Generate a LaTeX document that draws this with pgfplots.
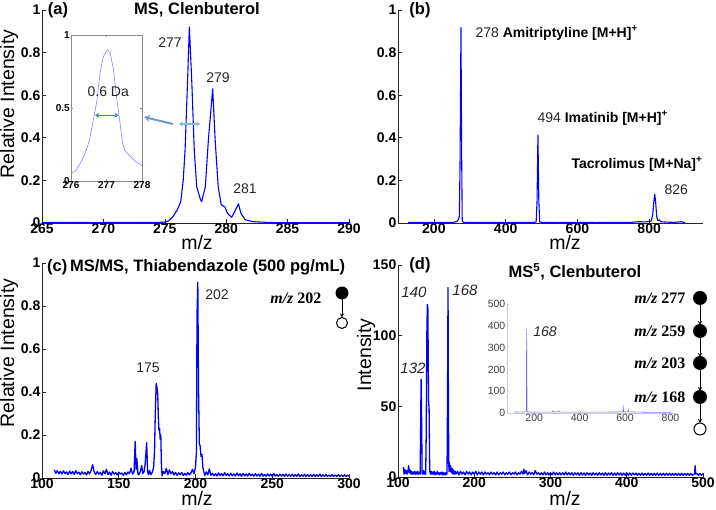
\documentclass[border=0pt]{standalone}
\usepackage{fontspec}
\setmainfont{Liberation Sans}
\newfontfamily\timesf{Liberation Serif}
\usepackage{pgfplots}
\pgfplotsset{compat=1.18}
\usetikzlibrary{arrows.meta}

\definecolor{specblue}{RGB}{0,0,255}
\definecolor{insetblue}{RGB}{115,115,245}
\definecolor{arrblue}{RGB}{70,130,190}
\definecolor{arrlight}{RGB}{130,185,225}

\pgfplotsset{
  msaxis/.style={
    scale only axis, anchor=south west,
    axis x line*=bottom, axis y line*=left,
    tick align=inside, major tick length=4pt,
    axis line style={black!85, line width=0.7pt},
    tick style={black!85, line width=0.6pt},
    tick label style={font=\bfseries\fontsize{14}{14}\selectfont},
    /pgf/number format/assume math mode=true,
    xticklabel style={inner sep=1pt},
    yticklabel style={inner sep=1.5pt},
  },
  spec/.style={specblue, line width=1.3pt, line join=round},
}
\newcommand{\mz}[1]{{\timesf\bfseries\itshape m/z\/ \upshape #1}}

\begin{document}
\begin{tikzpicture}[x=1pt,y=1pt]
\useasboundingbox (0,0) rectangle (716,510);

% ---------- (a) MS, Clenbuterol
\begin{axis}[msaxis, at={(42pt,287pt)}, width=307pt, height=213pt,
  xmin=265, xmax=290, ymin=0, ymax=1,
  xtick={265,270,275,280,285,290}, ytick={0,0.2,0.4,0.6,0.8,1}]
\addplot[spec, line width=1.1pt] coordinates {
(265,0.002) (266,0.003) (267,0.002) (268,0.003) (269,0.002) (270,0.002) (271,0.003)
(272,0.002) (273,0.003) (274,0.002) (275,0.004) (275.3,0.01) (275.6,0.025) (276,0.06)
(276.3,0.1) (276.5,0.2) (276.65,0.34) (276.85,0.66) (277,0.92) (277.2,0.66) (277.4,0.34)
(277.6,0.17) (277.9,0.11) (278,0.10) (278.3,0.17) (278.55,0.39) (278.9,0.63) (279.1,0.39)
(279.35,0.17) (279.6,0.085) (279.9,0.075) (280.1,0.045) (280.45,0.027) (280.7,0.055)
(281,0.09) (281.2,0.045) (281.55,0.015) (282.2,0.006) (283.3,0.003) (284,0.002)
(286,0.002) (288,0.002) (290,0.002)};
\end{axis}

% inset of (a)
\begin{axis}[at={(71pt,329pt)}, anchor=south west, scale only axis,
  width=71pt, height=146pt, xmin=276, xmax=278, ymin=0, ymax=1,
  xtick={276,277,278}, ytick={0,0.5,1},
  axis background/.style={fill=white},
  axis line style={black!45, line width=0.5pt},
  tick align=inside, major tick length=2pt, tick style={black!45},
  tick label style={font=\bfseries\fontsize{10}{10}\selectfont},
  /pgf/number format/assume math mode=true,
  xticklabel style={inner sep=0.5pt}, yticklabel style={inner sep=1pt},
  clip=false]
\addplot[insetblue, line width=0.5pt] coordinates {
(276,0.057) (276.12,0.064) (276.26,0.12) (276.4,0.19) (276.52,0.28) (276.63,0.42)
(276.73,0.55) (276.82,0.74) (276.91,0.85) (277.02,0.90) (277.1,0.88) (277.2,0.76)
(277.28,0.58) (277.38,0.40) (277.45,0.26) (277.52,0.21) (277.66,0.17) (277.84,0.13)
(278,0.105)};
\draw[arrblue, line width=1.3pt, {Stealth[length=4pt,width=5pt]}-{Stealth[length=4pt,width=5pt]}]
  (axis cs:276.68,0.45) -- (axis cs:277.34,0.45);
\node[font=\fontsize{14}{14}\selectfont, text=black!85] at (axis cs:277.05,0.61) {0.6 Da};
\end{axis}

% pointer from the peak to the inset
\draw[arrblue!80, line width=2pt, -{Stealth[length=6pt,width=7pt]}] (173,386) -- (144,393);
\draw[arrlight, line width=1.2pt, {Stealth[length=3.5pt,width=5pt]}-{Stealth[length=3.5pt,width=5pt]}] (179,386) -- (200,386);

\node[font=\bfseries\fontsize{16.5}{17}\selectfont] at (58,500) {(a)};
\node[font=\bfseries\fontsize{16.5}{17}\selectfont] at (197,500) {MS, Clenbuterol};
\node[font=\fontsize{14}{14}\selectfont, text=black!85] at (170,467) {277};
\node[font=\fontsize{14}{14}\selectfont, text=black!85] at (218,432) {279};
\node[font=\fontsize{14}{14}\selectfont, text=black!85] at (245,321) {281};
\node[rotate=90, font=\fontsize{19.5}{20}\selectfont] at (9,406) {Relative Intensity};
\node[font=\fontsize{19.5}{20}\selectfont] at (197,267) {m/z};

% ---------- (b) three drugs
\begin{axis}[msaxis, at={(398pt,287pt)}, width=305pt, height=213pt,
  xmin=100, xmax=950, ymin=0, ymax=1,
  xtick={200,400,600,800}, ytick={0,0.2,0.4,0.6,0.8,1}]
\addplot[spec, line width=1.1pt] coordinates {
(128,0.002) (150,0.003) (180,0.002) (200,0.003) (230,0.002) (255,0.003) (265,0.008)
(269,0.02) (271,0.03) (273,0.3) (275.5,0.917) (277.5,0.3) (279,0.01) (282,0.003)
(320,0.002) (360,0.003) (400,0.002) (440,0.003) (480,0.003) (485,0.005) (487.5,0.1)
(490,0.413) (492.5,0.1) (495,0.005) (500,0.003) (550,0.002) (600,0.003) (650,0.002)
(700,0.003) (750,0.003) (770,0.006) (790,0.005) (800,0.008) (806,0.01) (810,0.04)
(813,0.1) (815.5,0.135) (818,0.1) (821,0.03) (824,0.012) (828,0.015) (832,0.006)
(850,0.004) (870,0.003) (890,0.006) (900,0.002)};
\end{axis}
\node[anchor=west, font=\fontsize{14}{14}\selectfont] at (472,477)
  {\color{black!85}278 \bfseries\color{black}Amitriptyline [M+H]\textsuperscript{+}};
\node[anchor=west, font=\fontsize{14}{14}\selectfont] at (534,392)
  {\color{black!85}494 \bfseries\color{black}Imatinib [M+H]\textsuperscript{+}};
\node[anchor=west, font=\bfseries\fontsize{14}{14}\selectfont] at (568,346)
  {Tacrolimus [M+Na]\textsuperscript{+}};
\node[anchor=west, font=\fontsize{14}{14}\selectfont, text=black!85] at (661,320) {826};
\node[font=\bfseries\fontsize{16.5}{17}\selectfont] at (420,500) {(b)};
\node[font=\fontsize{19.5}{20}\selectfont] at (565,267) {m/z};

% ---------- (c) MS/MS Thiabendazole
\begin{axis}[msaxis, at={(42pt,32pt)}, width=307pt, height=215pt,
  xmin=100, xmax=300, ymin=0, ymax=1,
  xtick={100,150,200,250,300}, ytick={0,0.2,0.4,0.6,0.8,1}]
\addplot[spec] coordinates {
(108,0.038) (109,0.022) (110,0.034) (111,0.02) (112,0.031) (113,0.018) (114,0.033)
(115,0.02) (116,0.028) (117,0.016) (118,0.032) (119,0.019) (120,0.03) (121,0.017)
(122,0.034) (123,0.02) (124,0.027) (125,0.015) (126,0.029) (127,0.018) (128,0.026)
(129,0.014) (130,0.03) (131,0.019) (132,0.035) (133,0.062) (134,0.028) (135,0.016)
(136,0.03) (137,0.018) (138,0.026) (139,0.013) (140,0.033) (141,0.02) (142,0.04)
(143,0.016) (144,0.027) (145,0.013) (146,0.03) (147,0.018) (148,0.025) (149,0.014)
(150,0.027) (151,0.018) (152,0.023) (153,0.012) (154,0.026) (155,0.015) (156,0.028)
(157,0.02) (158,0.045) (159,0.018) (160,0.03) (160.7,0.17) (161.3,0.04) (161.8,0.09)
(162.5,0.02) (163,0.015) (164,0.03) (165,0.058) (165.6,0.02) (166.5,0.03) (167.2,0.065)
(168.2,0.165) (168.8,0.03) (169.5,0.015) (170,0.035) (171,0.015) (172,0.03) (172.7,0.05)
(173.3,0.12) (173.8,0.3) (174.4,0.44) (174.9,0.42) (175.4,0.39) (175.8,0.28) (176.2,0.22)
(176.6,0.23) (177,0.18) (177.4,0.2) (177.8,0.06) (178.2,0.01) (179,0.03) (180,0.02)
(181,0.045) (182,0.015) (183,0.038) (184,0.02) (185,0.03) (186,0.014) (187,0.026)
(188,0.012) (189,0.024) (190,0.015) (191,0.026) (192,0.012) (193,0.021) (194,0.013)
(195,0.025) (196,0.015) (197,0.022) (198,0.04) (199,0.02) (200,0.05) (200.6,0.12)
(201,0.76) (201.5,0.91) (202,0.4) (202.5,0.16) (203,0.15) (203.6,0.1) (204.2,0.11)
(204.8,0.05) (205.4,0.03) (206,0.012) (207,0.028) (208,0.015) (209,0.042) (210,0.012)
(211,0.022) (212,0.01) (213,0.02) (214,0.009) (215,0.024) (216,0.011) (217,0.021)
(218,0.01) (219,0.025) (220,0.011) (221,0.02) (222,0.009) (223,0.022) (224,0.01)
(225,0.019) (226,0.009) (227,0.023) (228,0.01) (229,0.02) (230,0.008) (231,0.021)
(232,0.01) (233,0.019) (234,0.009) (235,0.022) (236,0.01) (237,0.018) (238,0.008)
(239,0.02) (240,0.009) (241,0.018) (242,0.008) (243,0.021) (244,0.009) (245,0.017)
(246,0.008) (247,0.019) (248,0.009) (249,0.018) (250,0.008) (251,0.02) (252,0.009)
(253,0.016) (254,0.008) (255,0.018) (256,0.009) (257,0.017) (258,0.007) (259,0.019)
(260,0.008) (261,0.016) (262,0.008) (263,0.018) (264,0.007) (265,0.016) (266,0.008)
(267,0.019) (268,0.007) (269,0.015) (270,0.008) (271,0.017) (272,0.007) (273,0.016)
(274,0.008) (275,0.015) (276,0.007) (277,0.017) (278,0.007) (279,0.015) (280,0.008)
(281,0.018) (282,0.007) (283,0.015) (284,0.007) (285,0.016) (286,0.007) (287,0.014)
(288,0.007) (289,0.016) (290,0.007) (291,0.014) (292,0.007) (293,0.015) (294,0.007)
(295,0.014) (296,0.006) (297,0.015) (298,0.007) (299,0.014) (300,0.007)};
\end{axis}
\node[anchor=west, inner sep=0pt, font=\bfseries\fontsize{16.5}{17}\selectfont] at (47,243)
  {(c)\,MS/MS, Thiabendazole (500 pg/mL)};
\node[font=\fontsize{14}{14}\selectfont, text=black!85] at (217,215) {202};
\node[font=\fontsize{14}{14}\selectfont, text=black!85] at (148,142) {175};
\node[anchor=east, font=\fontsize{16}{16}\selectfont] at (325,212) {\mz{202}};
\fill (342,217) circle (6.5);
\draw[line width=1pt] (342,187) circle (5.5);
\draw[line width=1pt, -{Stealth[length=4pt,width=4pt]}] (342,210.5) -- (342,192.5);
\node[rotate=90, font=\fontsize{19.5}{20}\selectfont] at (9,157) {Relative Intensity};
\node[font=\fontsize{19.5}{20}\selectfont] at (197,11) {m/z};

% ---------- (d) MS^5 Clenbuterol
\begin{axis}[msaxis, at={(398pt,33pt)}, width=305pt, height=212pt,
  xmin=100, xmax=500, ymin=0, ymax=150,
  xtick={100,200,300,400,500}, ytick={0,50,100,150}]
\addplot[spec] coordinates {
(107,7) (108,2) (109,5.5) (110,2.5) (111,4.5) (112,2) (113,4) (114,8) (115,3) (116,5)
(117,2) (118,4) (119,2) (120,3.5) (121,2) (122,4) (123,2) (124,3.5) (125,2) (126,4)
(127,2) (128,3) (129,2) (129.6,30) (130.3,69) (131,40) (131.6,3) (132.5,2) (133.5,4.5)
(134.5,2) (135.5,4) (136.3,2) (137,30) (137.8,100) (138.5,122) (139.2,119) (140,55)
(140.8,48) (141.6,4) (142.5,2) (143.5,4) (144.5,2) (145.5,3.5) (146.5,2) (147.5,4)
(148.5,1.5) (149.5,3) (150.5,2) (151.5,4) (152.5,2) (153.5,3) (154.5,1.5) (155.5,3)
(156.5,2) (157.5,3.5) (158.5,1.5) (159.5,3) (160.5,1.5) (161.5,3) (162.5,1.5) (163.5,3)
(164.3,2) (165,60) (165.6,134) (166.2,40) (166.8,4) (167.5,10) (168.3,4) (169,8) (170,3)
(171,6) (172,2) (173,5) (174,2) (175,4) (176,2) (178,4) (180,1.5) (182,4) (184,2)
(186,3.5) (188,1.5) (190,4) (192,2) (194,3.5) (196,1.5) (198,3.5) (200,2) (202,4)
(204,1.5) (206,3.5) (208,2) (210,3.5) (212,1.5) (214,3.5) (216,2) (218,3) (220,1.5)
(222,3.5) (224,2) (226,3) (228,1.5) (230,3.5) (232,1.5) (234,3) (236,2) (238,3.5)
(240,1.5) (242,3) (244,2) (246,3.5) (248,1.5) (250,3) (252,2) (254,3.5) (256,1.5)
(258,3) (260,2) (262,4) (264,2) (265,5.5) (266,2.5) (268,4.5) (270,1.5) (272,3.5)
(274,2) (276,3) (278,1.5) (280,4.5) (282,2) (284,3) (286,1.5) (288,3) (290,1.5)
(292,3.5) (294,1.5) (296,3) (298,1.5) (300,3) (302,1.5) (304,3.5) (306,1.5) (308,3)
(310,1.5) (312,3) (314,1.5) (316,3) (318,1.5) (320,3.5) (322,1.5) (324,3) (326,1.5)
(328,3) (330,1.2) (332,3) (334,1.5) (336,3) (338,1.2) (340,3) (342,1.5) (344,2.8)
(346,1.2) (348,3) (350,1.5) (352,2.8) (354,1.2) (356,3) (358,1.5) (360,2.8) (362,1.2)
(364,3) (366,1.5) (368,2.8) (370,1.2) (372,3) (374,1.2) (376,2.8) (378,1.5) (380,3)
(382,1.2) (384,2.8) (386,1.2) (388,3) (390,1.5) (392,2.8) (394,1.2) (396,2.8) (398,1.2)
(400,3) (402,1.2) (404,2.8) (406,1.2) (408,2.8) (410,1.5) (412,2.8) (414,1.2) (416,2.6)
(418,1.2) (420,2.8) (422,1.2) (424,2.6) (426,1.2) (428,2.8) (430,1.2) (432,2.6)
(434,1.2) (436,2.6) (438,1.2) (440,2.8) (442,1.2) (444,2.6) (446,1.2) (448,2.6)
(450,1.2) (452,2.6) (454,1.2) (456,2.6) (458,1.2) (460,2.5) (462,1.2) (464,2.6)
(466,1.2) (468,2.5) (470,1.2) (472,2.6) (474,1.2) (476,2.5) (478,1.2) (480,2.5)
(482,1.2) (484,2.5) (486,1.2) (488,2) (489,2) (489.6,8) (490.3,2) (492,2.5) (494,1.2)
(496,2.4) (498,1.2) (500,2.3)};
\end{axis}

% inset of (d): full MS^5 range
\begin{axis}[at={(507pt,97pt)}, anchor=south west, scale only axis,
  width=168pt, height=109pt, xmin=80, xmax=820, ymin=0, ymax=500,
  xtick={200,400,600,800}, ytick={0,100,200,300,400,500},
  axis x line*=bottom, axis y line*=left,
  axis line style={black!20, line width=0.4pt},
  tick align=inside, major tick length=2pt, tick style={black!20},
  tick label style={font=\fontsize{10.5}{11}\selectfont, text=black!75},
  /pgf/number format/assume math mode=true,
  xticklabel style={inner sep=1pt}, yticklabel style={inner sep=1.5pt}]
\addplot[insetblue, line width=0.6pt] coordinates {
(110,5) (140,4) (160,5) (165,5) (166.5,385) (167.5,190) (168.5,5) (200,4) (250,4)
(280,4) (282,10) (284,4) (300,5) (310,8) (312,4) (400,4) (500,4) (590,5) (592,25)
(594,5) (612,5) (614,15) (616,5) (700,3) (800,3)};
\end{axis}

\node[font=\bfseries\fontsize{16.5}{17}\selectfont] at (420,245) {(d)};
\node[font=\bfseries\fontsize{16.5}{17}\selectfont] at (575,238) {MS\textsuperscript{5}, Clenbuterol};
\node[font=\itshape\fontsize{15}{15}\selectfont, text=black!85] at (414,218) {140};
\node[font=\itshape\fontsize{15}{15}\selectfont, text=black!85] at (413,142) {132};
\node[font=\itshape\fontsize{15}{15}\selectfont, text=black!85] at (465,220) {168};
\node[font=\itshape\fontsize{14}{14}\selectfont, text=black!85] at (545,178) {168};
\node[rotate=90, font=\fontsize{19.5}{20}\selectfont] at (366,155) {Intensity};
\node[font=\fontsize{19.5}{20}\selectfont] at (565,11) {m/z};

% fragmentation pathway
\foreach \yy/\lab in {212/277,179/259,147/203,113/168}{
  \fill (700,\yy) circle (7);
  \node[anchor=east, font=\fontsize{16}{16}\selectfont] at (689,\yy) {\mz{\lab}};
}
\draw[line width=1pt] (700,81) circle (6);
\foreach \ya/\yb in {212/179,179/147,147/113,113/81}{
  \draw[line width=1pt, -{Stealth[length=4pt,width=4pt]}] (700,\ya-7) -- (700,\yb+6);
}
\end{tikzpicture}
\end{document}
